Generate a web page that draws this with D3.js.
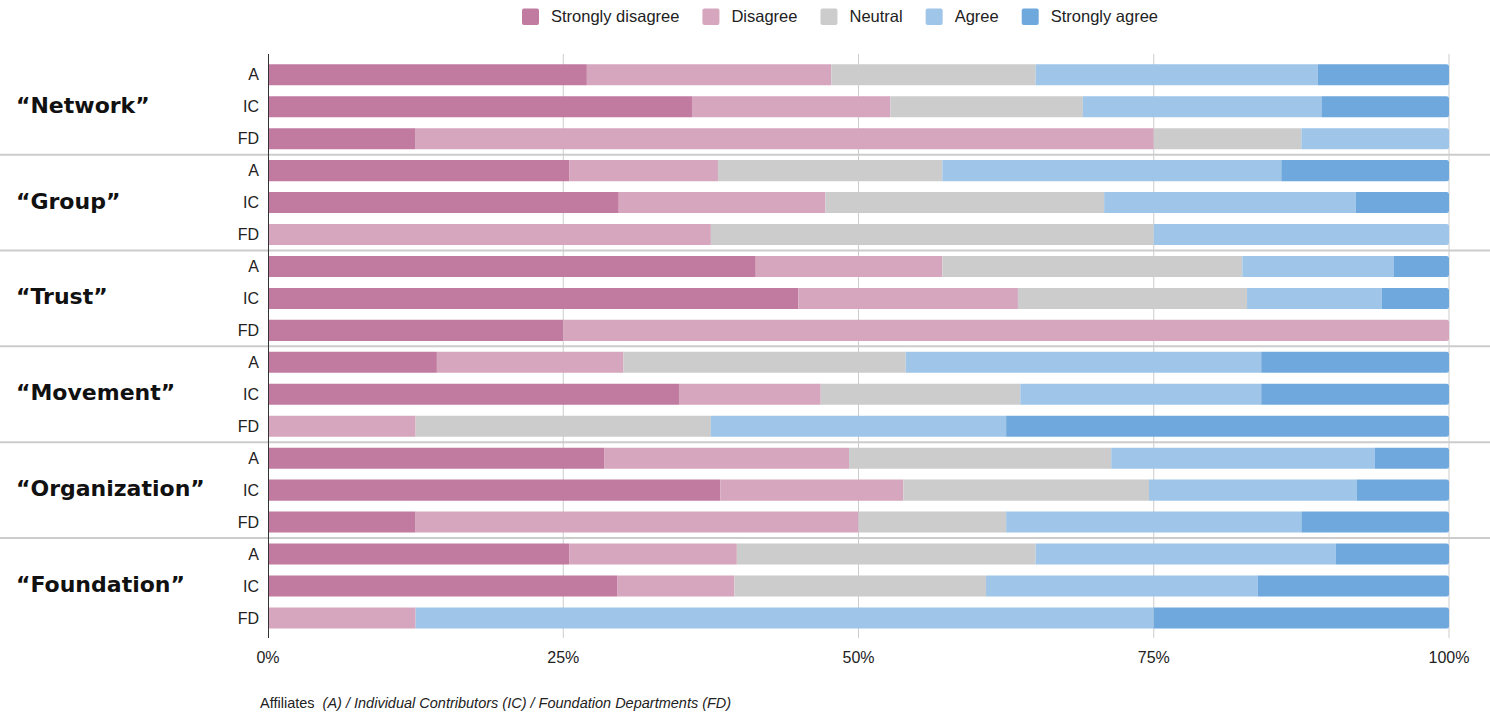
<!DOCTYPE html>
<html>
<head>
<meta charset="utf-8">
<script src="https://cdn.jsdelivr.net/npm/d3@7"></script>
<style>
  html, body { margin: 0; padding: 0; background: #ffffff; }
  svg { display: block; }
</style>
</head>
<body>
<svg id="chart" width="1490" height="715"></svg>
<script>
// ---------- DATA ----------
const groups = ["“Network”", "“Group”", "“Trust”", "“Movement”", "“Organization”", "“Foundation”"];
const subgroups = ["A", "IC", "FD"];
const seriesNames = ["Strongly disagree", "Disagree", "Neutral", "Agree", "Strongly agree"];
const seriesColors = ["#c27ba0", "#d5a6bd", "#cccccc", "#9fc5e8", "#6fa8dc"];
const tickValues = [0, 25, 50, 75, 100];
const tickLabels = ["0%", "25%", "50%", "75%", "100%"];

// row order: Network A, IC, FD, Group A, IC, FD, Trust ..., Movement ..., Organization ..., Foundation ...
const stronglyDisagree = [27.0, 35.9, 12.5, 25.5, 29.7, 0, 41.3, 44.9, 25.0, 14.3, 34.8, 0, 28.5, 38.3, 12.5, 25.5, 29.6, 0];
const disagree         = [20.7, 16.8, 62.5, 12.6, 17.5, 37.5, 15.8, 18.6, 75.0, 15.8, 12.0, 12.5, 20.7, 15.5, 37.5, 14.2, 9.9, 12.5];
const neutral          = [17.3, 16.3, 12.5, 19.0, 23.6, 37.5, 25.4, 19.4, 0, 23.9, 16.9, 25.0, 22.2, 20.8, 12.5, 25.3, 21.3, 0];
const agree            = [23.9, 20.2, 12.5, 28.7, 21.3, 25.0, 12.8, 11.4, 0, 30.1, 20.4, 25.0, 22.3, 17.6, 25.0, 25.4, 23.0, 62.5];
const stronglyAgree    = [11.1, 10.8, 0, 14.2, 7.9, 0, 4.7, 5.7, 0, 15.9, 15.9, 37.5, 6.3, 7.8, 12.5, 9.6, 16.2, 25.0];

const footerPlain = "Affiliates ";
const footerItalic = " (A) / Individual Contributors (IC) / Foundation Departments (FD)";

// ---------- BUILD TABLE ----------
const seriesValues = [stronglyDisagree, disagree, neutral, agree, stronglyAgree];
const rows = [];
groups.forEach((g, gi) => subgroups.forEach((s, si) => {
  const i = gi * subgroups.length + si;
  const r = { key: g + "|" + s, group: g, sub: s };
  seriesNames.forEach((n, k) => r[n] = seriesValues[k][i]);
  rows.push(r);
}));

// ---------- LAYOUT ----------
const svg = d3.select("#chart");
const x0 = 268, x1 = 1449;
const yTop = 58.8, yBot = 633.9;
const x = d3.scaleLinear().domain([0, 100]).range([x0, x1]);
const y = d3.scaleBand().domain(rows.map(d => d.key)).range([yTop, yBot])
  .paddingInner(0.342).paddingOuter(0.171);
const color = d3.scaleOrdinal().domain(seriesNames).range(seriesColors);

const labelFont = "'Liberation Sans', Arial, sans-serif";

// gridlines
const grid = svg.append("g");
grid.selectAll("line").data(tickValues.slice(1)).join("line")
  .attr("x1", d => x(d)).attr("x2", d => x(d))
  .attr("y1", 54).attr("y2", 638)
  .attr("stroke", "#cccccc").attr("stroke-width", 1);

// stacked bars
const stack = d3.stack().keys(seriesNames);
const stacked = stack(rows);
const lastIdx = rows.map((r) => {
  let li = 0;
  seriesNames.forEach((n, k) => { if (r[n] > 0) li = k; });
  return li;
});

function segPath(xa, xb, yy, h, rad) {
  const r = Math.min(rad, (xb - xa));
  return `M${xa},${yy}H${xb - r}Q${xb},${yy} ${xb},${yy + r}V${yy + h - r}Q${xb},${yy + h} ${xb - r},${yy + h}H${xa}Z`;
}

const barG = svg.append("g");
stacked.forEach((layer, k) => {
  barG.append("g").attr("fill", color(layer.key))
    .selectAll("path").data(layer.filter(d => d[1] - d[0] > 0)).join("path")
    .attr("d", d => {
      const ri = rows.indexOf(d.data);
      const rad = lastIdx[ri] === k ? 2.5 : 0;
      return segPath(x(d[0]), x(d[1]), y(d.data.key), y.bandwidth(), rad);
    });
});

// group separators
const step = y.step();
const sepYs = d3.range(1, groups.length).map(i => yTop + i * subgroups.length * step);
svg.append("g").selectAll("line").data(sepYs).join("line")
  .attr("x1", 0).attr("x2", 1490)
  .attr("y1", d => d).attr("y2", d => d)
  .attr("stroke", "#cccccc").attr("stroke-width", 2);

// axis line at 0
svg.append("line").attr("x1", x0 + 0.5).attr("x2", x0 + 0.5).attr("y1", 54).attr("y2", 638)
  .attr("stroke", "#333333").attr("stroke-width", 1);

// subgroup labels
svg.append("g").selectAll("text").data(rows).join("text")
  .attr("x", 259).attr("y", d => y(d.key) + y.bandwidth() / 2 + 5.6)
  .attr("text-anchor", "end")
  .attr("font-family", labelFont).attr("font-size", 16).attr("fill", "#222222")
  .text(d => d.sub);

// group labels
svg.append("g").selectAll("text").data(groups).join("text")
  .attr("x", 16)
  .attr("y", g => y(g + "|IC") + y.bandwidth() / 2 + 6)
  .attr("font-family", "'DejaVu Sans', sans-serif").attr("font-weight", "bold")
  .attr("font-size", 22).attr("fill", "#111111")
  .text(g => g);

// x axis tick labels
svg.append("g").selectAll("text").data(tickValues).join("text")
  .attr("x", d => x(d)).attr("y", 663)
  .attr("text-anchor", "middle")
  .attr("font-family", labelFont).attr("font-size", 16).attr("fill", "#222222")
  .text((d, i) => tickLabels[i]);

// legend
const legend = svg.append("g");
let lx = 522;
seriesNames.forEach((n, k) => {
  legend.append("rect").attr("x", lx).attr("y", 8.5).attr("width", 17).attr("height", 16.5)
    .attr("rx", 2).attr("fill", color(n));
  const t = legend.append("text").attr("x", lx + 29).attr("y", 22)
    .attr("font-family", labelFont).attr("font-size", 16.5).attr("fill", "#222222").text(n);
  lx = lx + 29 + t.node().getComputedTextLength() + 23;
});

// footer
const foot = svg.append("text").attr("x", 260).attr("y", 707.5)
  .attr("font-family", labelFont).attr("font-size", 14.5).attr("fill", "#222222");
foot.append("tspan").attr("xml:space", "preserve").text(footerPlain);
foot.append("tspan").attr("font-style", "italic").text(footerItalic);
</script>
</body>
</html>
